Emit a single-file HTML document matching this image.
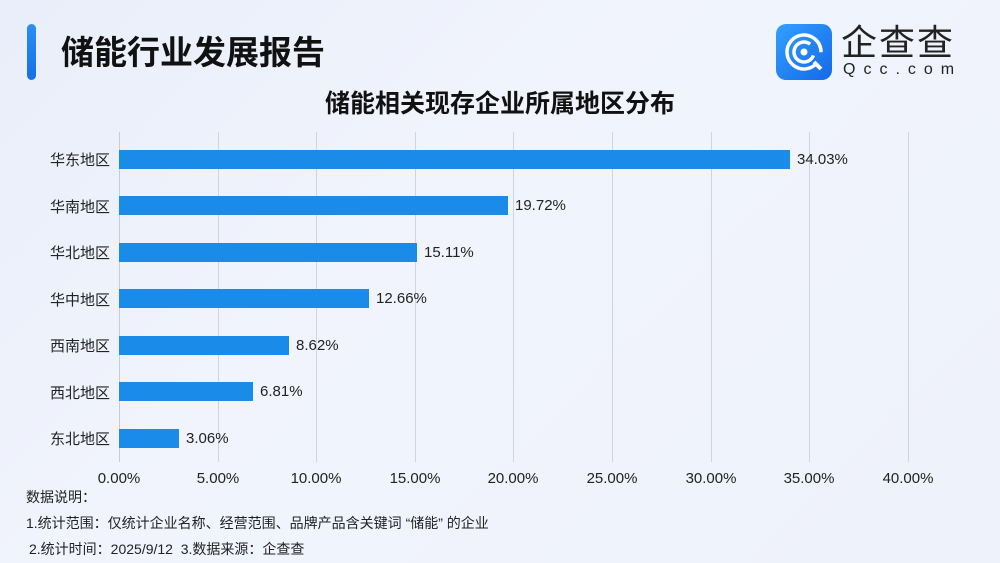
<!DOCTYPE html>
<html><head><meta charset="utf-8"><style>
*{margin:0;padding:0;box-sizing:border-box}
body{width:1000px;height:563px;overflow:hidden;position:relative;font-family:"Liberation Sans","Noto Sans CJK SC",sans-serif;
background:linear-gradient(135deg,#e9eefa 0%,#f1f4fc 40%,#eef2fb 100%);color:#222}
.abs{position:absolute}
.bar{position:absolute;left:119px;height:19px;background:#1a8be8}
.lab{position:absolute;width:110px;text-align:right;left:0;font-size:15px;color:#222}
.val{position:absolute;font-size:15px;color:#222}
.grid{position:absolute;top:132px;height:330px;width:1px;background:#d0d4dc}
.tk{position:absolute;top:470px;font-size:15px;width:80px;text-align:center;color:#222}
.fn{position:absolute;font-size:14px;color:#222}
</style></head><body>
<div class="abs" style="left:27px;top:24px;width:9px;height:56px;border-radius:5px;background:linear-gradient(#2a8ef5,#1570e6)"></div>
<div class="abs" style="left:61px;top:26px;font-size:33px;font-weight:bold;color:#111">储能行业发展报告</div>
<div class="abs" style="left:776px;top:24px;width:56px;height:56px;border-radius:10px;background:linear-gradient(135deg,#33a0ff,#1469e8)">
<svg width="56" height="56" viewBox="0 0 56 56"><circle cx="28" cy="28" r="17" fill="none" stroke="#fff" stroke-width="3.5" stroke-dasharray="95 12" transform="rotate(40 28 28)"/><circle cx="28" cy="28" r="10" fill="none" stroke="#fff" stroke-width="3.5" stroke-dasharray="50 13" transform="rotate(20 28 28)"/><circle cx="28" cy="28" r="3.5" fill="#fff"/><line x1="38" y1="38" x2="45" y2="45" stroke="#fff" stroke-width="4"/></svg></div>
<div class="abs" style="left:841px;top:14px;font-size:36px;color:#222;letter-spacing:2px">企查查</div>
<div class="abs" style="left:843px;top:61px;font-size:16px;color:#222;letter-spacing:8px">Qcc.com</div>
<div class="abs" style="left:0;width:1000px;top:84px;text-align:center;font-size:25px;font-weight:bold;color:#111">储能相关现存企业所属地区分布</div>
<div class="grid" style="left:119px;background:#c8ccd4"></div>
<div class="grid" style="left:218px"></div><div class="grid" style="left:316px"></div><div class="grid" style="left:415px"></div><div class="grid" style="left:513px"></div><div class="grid" style="left:612px"></div><div class="grid" style="left:711px"></div><div class="grid" style="left:809px"></div><div class="grid" style="left:908px"></div>
<div class="lab" style="top:149px">华东地区</div><div class="bar" style="top:150px;width:671px"></div><div class="val" style="left:797px;top:151px">34.03%</div>
<div class="lab" style="top:196px">华南地区</div><div class="bar" style="top:196px;width:389px"></div><div class="val" style="left:515px;top:197px">19.72%</div>
<div class="lab" style="top:242px">华北地区</div><div class="bar" style="top:243px;width:298px"></div><div class="val" style="left:424px;top:244px">15.11%</div>
<div class="lab" style="top:289px">华中地区</div><div class="bar" style="top:289px;width:250px"></div><div class="val" style="left:376px;top:290px">12.66%</div>
<div class="lab" style="top:335px">西南地区</div><div class="bar" style="top:336px;width:170px"></div><div class="val" style="left:296px;top:337px">8.62%</div>
<div class="lab" style="top:382px">西北地区</div><div class="bar" style="top:382px;width:134px"></div><div class="val" style="left:260px;top:383px">6.81%</div>
<div class="lab" style="top:428px">东北地区</div><div class="bar" style="top:429px;width:60px"></div><div class="val" style="left:186px;top:430px">3.06%</div>
<div class="tk" style="left:79px">0.00%</div><div class="tk" style="left:178px">5.00%</div><div class="tk" style="left:276px">10.00%</div><div class="tk" style="left:375px">15.00%</div><div class="tk" style="left:473px">20.00%</div><div class="tk" style="left:572px">25.00%</div><div class="tk" style="left:671px">30.00%</div><div class="tk" style="left:769px">35.00%</div><div class="tk" style="left:868px">40.00%</div>
<div class="fn" style="left:26px;top:487px">数据说明：</div>
<div class="fn" style="left:26px;top:513px">1.统计范围：仅统计企业名称、经营范围、品牌产品含关键词 “储能” 的企业</div>
<div class="fn" style="left:29px;top:539px">2.统计时间：2025/9/12&nbsp; 3.数据来源：企查查</div>
</body></html>
